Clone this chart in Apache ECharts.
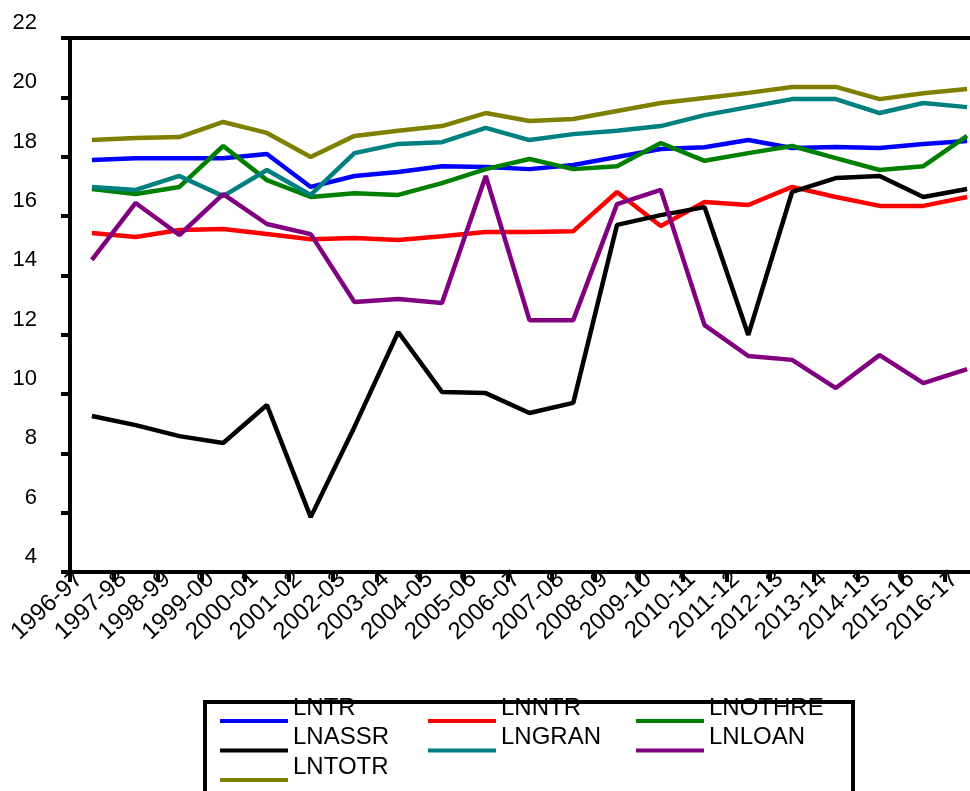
<!DOCTYPE html>
<html>
<head>
<meta charset="utf-8">
<script src="https://cdn.jsdelivr.net/npm/echarts@6/dist/echarts.min.js"></script>
<style>
  html, body { margin: 0; padding: 0; background: #fff; overflow: hidden; }
  #chart { width: 1000px; height: 791px; }
</style>
</head>
<body>
<div id="chart"></div>
<script>
var years = ['1996-97', '1997-98', '1998-99', '1999-00', '2000-01', '2001-02', '2002-03',
    '2003-04', '2004-05', '2005-06', '2006-07', '2007-08', '2008-09', '2009-10',
    '2010-11', '2011-12', '2012-13', '2013-14', '2014-15', '2015-16', '2016-17'];

var yTicks = [4, 6, 8, 10, 12, 14, 16, 18, 20, 22];

var lntr    = [17.89, 17.95, 17.95, 17.95, 18.09, 16.98, 17.35, 17.48, 17.68, 17.65, 17.58, 17.72, 17.99, 18.26, 18.32, 18.56, 18.29, 18.33, 18.29, 18.43, 18.53];
var lnntr   = [15.43, 15.29, 15.53, 15.56, 15.39, 15.22, 15.26, 15.19, 15.32, 15.46, 15.46, 15.49, 16.81, 15.66, 16.47, 16.37, 16.98, 16.64, 16.34, 16.34, 16.64];
var lnothre = [16.91, 16.74, 16.98, 18.36, 17.21, 16.64, 16.77, 16.71, 17.11, 17.58, 17.92, 17.58, 17.68, 18.46, 17.86, 18.12, 18.36, 17.95, 17.55, 17.68, 18.70];
var lnassr  = [9.26, 8.95, 8.58, 8.35, 9.63, 5.85, 8.89, 12.09, 10.07, 10.03, 9.36, 9.70, 15.70, 16.03, 16.30, 11.99, 16.81, 17.28, 17.35, 16.64, 16.91];
var lngran  = [16.98, 16.88, 17.35, 16.67, 17.55, 16.71, 18.12, 18.43, 18.49, 18.97, 18.56, 18.76, 18.87, 19.03, 19.40, 19.67, 19.94, 19.94, 19.47, 19.81, 19.67];
var lnloan  = [14.52, 16.44, 15.36, 16.74, 15.73, 15.39, 13.10, 13.20, 13.07, 17.35, 12.49, 12.49, 16.40, 16.88, 12.32, 11.28, 11.15, 10.20, 11.31, 10.37, 10.84];
var lntotr  = [18.56, 18.63, 18.66, 19.17, 18.80, 17.99, 18.70, 18.87, 19.03, 19.47, 19.20, 19.27, 19.54, 19.81, 19.98, 20.15, 20.35, 20.35, 19.94, 20.14, 20.28];

var names  = ['LNTR', 'LNNTR', 'LNOTHRE', 'LNASSR', 'LNGRAN', 'LNLOAN', 'LNTOTR'];
var values = [lntr, lnntr, lnothre, lnassr, lngran, lnloan, lntotr];
var colors = ['#0000ff', '#ff0000', '#008000', '#000000', '#008080', '#800080', '#808000'];

// container is a bit wider than the window: the right frame of the plot is cut off in the original
var myChart = echarts.init(document.getElementById('chart'), null, { renderer: 'canvas' });

var font = 'Liberation Sans, Arial, sans-serif';

// one legend per entry so the 3-column grid sits like the original,
// label drawn as the first of two lines so it sits above its swatch
var legends = [];
for (var i = 0; i < names.length; i++) {
    var col = i % 3, row = Math.floor(i / 3);
    legends.push({
        data: [names[i]],
        left: 220 + col * 208,
        top: 695 + row * 29.5,
        padding: 0,
        itemWidth: 68,
        itemHeight: 4,
        icon: 'rect',
        selectedMode: false,
        formatter: function (name) { return name + '\n '; },
        textStyle: {
            fontFamily: font,
            fontSize: 24,
            lineHeight: 26,
            color: '#000'
        }
    });
}

var series = [];
for (var k = 0; k < names.length; k++) {
    series.push({
        name: names[k],
        type: 'line',
        data: values[k],
        symbol: 'none',
        color: colors[k],
        lineStyle: { width: 4.5, color: colors[k] }
    });
}

var option = {
    animation: false,
    backgroundColor: '#fff',
    color: colors,
    legend: legends,
    grid: {
        left: 70,
        top: 38,
        right: 11,
        height: 534,
        show: true,
        borderColor: '#000',
        borderWidth: 4,
        containLabel: false
    },
    xAxis: {
        type: 'category',
        data: years,
        boundaryGap: true,
        axisLine: { lineStyle: { color: '#000', width: 4 } },
        axisTick: { show: true, length: 10, lineStyle: { color: '#000', width: 4 } },
        axisLabel: {
            interval: 0,
            rotate: 43,
            margin: -8,
            padding: [0, 17, 0, 0],
            fontFamily: font,
            fontSize: 24,
            color: '#000'
        },
        splitLine: { show: false }
    },
    yAxis: {
        type: 'value',
        min: 4,
        max: 22,
        interval: 2,
        axisLine: { show: true, lineStyle: { color: '#000', width: 4 } },
        axisTick: { show: true, length: 9, lineStyle: { color: '#000', width: 4 } },
        axisLabel: {
            margin: 33,
            verticalAlign: 'bottom',
            padding: [0, 0, 4, 0],
            fontFamily: font,
            fontSize: 22,
            color: '#000',
            formatter: function (v) { return yTicks.indexOf(v) >= 0 ? String(v) : ''; }
        },
        splitLine: { show: false }
    },
    graphic: [{
        type: 'rect',
        shape: { x: 205, y: 702, width: 648, height: 130 },
        style: { fill: 'none', stroke: '#000', lineWidth: 4 },
        z: 0
    }],
    series: series
};

myChart.setOption(option);
</script>
</body>
</html>
